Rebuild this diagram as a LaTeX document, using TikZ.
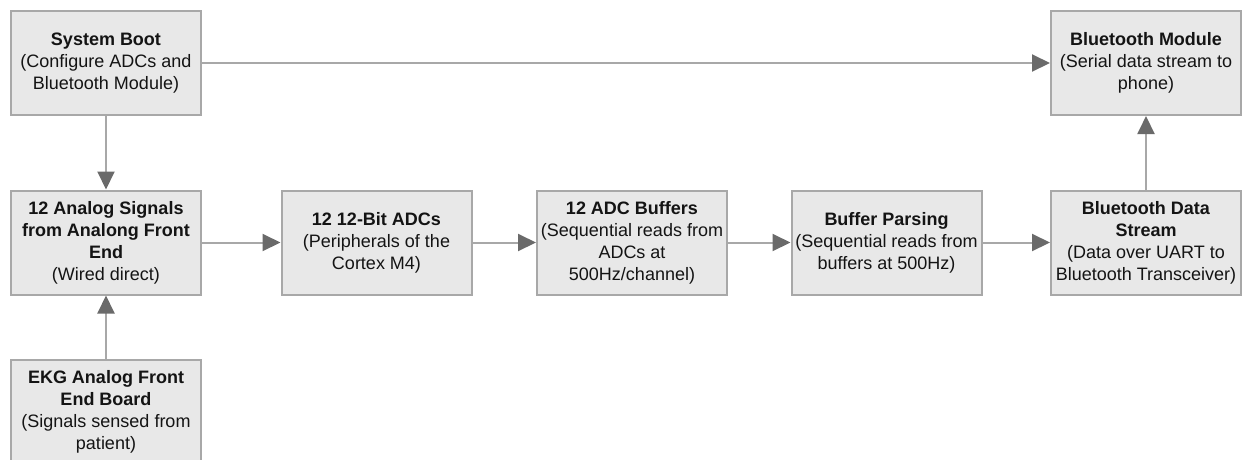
\documentclass[tikz,border=0pt]{standalone}
\usepackage{fontspec}
\setmainfont{Liberation Sans}
\usetikzlibrary{arrows.meta}
\definecolor{boxfill}{HTML}{E8E8E8}
\definecolor{boxline}{HTML}{A8A8A8}
\definecolor{linegray}{HTML}{A8A8A8}
\definecolor{tipgray}{HTML}{6A6A6A}
\definecolor{txt}{HTML}{141414}
\begin{document}
\begin{tikzpicture}[x=1pt,y=-1pt,
  blk/.style={draw=boxline, fill=boxfill, line width=2pt, rectangle,
    minimum width=190pt, minimum height=104pt, inner sep=0pt, align=center,
    text=txt, font=\fontsize{18}{22}\selectfont},
  arr/.style={draw=linegray, line width=2pt,
    -{Triangle[length=18pt,width=17pt,color=tipgray]}}]
\useasboundingbox (0,0) rectangle (1244,459);
\clip (0,0) rectangle (1244,459);
\node[blk] (boot) at (106,63) {\textbf{System Boot}\\(Configure ADCs and\\Bluetooth Module)};
\node[blk] (btm) at (1146,63) {\textbf{Bluetooth Module}\\(Serial data stream to\\phone)};
\node[blk] (analog) at (106,242.5) {\textbf{12 Analog Signals}\\\textbf{from Analong Front}\\\textbf{End}\\(Wired direct)};
\node[blk] (adc) at (376.5,242.5) {\textbf{12 12-Bit ADCs}\\(Peripherals of the\\Cortex M4)};
\node[blk] (buf) at (632,242.5) {\textbf{12 ADC Buffers}\\(Sequential reads from\\ADCs at\\500Hz/channel)};
\node[blk] (parse) at (886.5,242.5) {\textbf{Buffer Parsing}\\(Sequential reads from\\buffers at 500Hz)};
\node[blk] (bts) at (1146,242.5) {\textbf{Bluetooth Data}\\\textbf{Stream}\\(Data over UART to\\Bluetooth Transceiver)};
\node[blk] (ekg) at (106,411.5) {\textbf{EKG Analog Front}\\\textbf{End Board}\\(Signals sensed from\\patient)};
\draw[arr] (boot.east) -- (btm.west);
\draw[arr] (boot.south) -- (analog.north);
\draw[arr] (ekg.north) -- (analog.south);
\draw[arr] (analog.east) -- (adc.west);
\draw[arr] (adc.east) -- (buf.west);
\draw[arr] (buf.east) -- (parse.west);
\draw[arr] (parse.east) -- (bts.west);
\draw[arr] (bts.north) -- (btm.south);
\end{tikzpicture}
\end{document}
